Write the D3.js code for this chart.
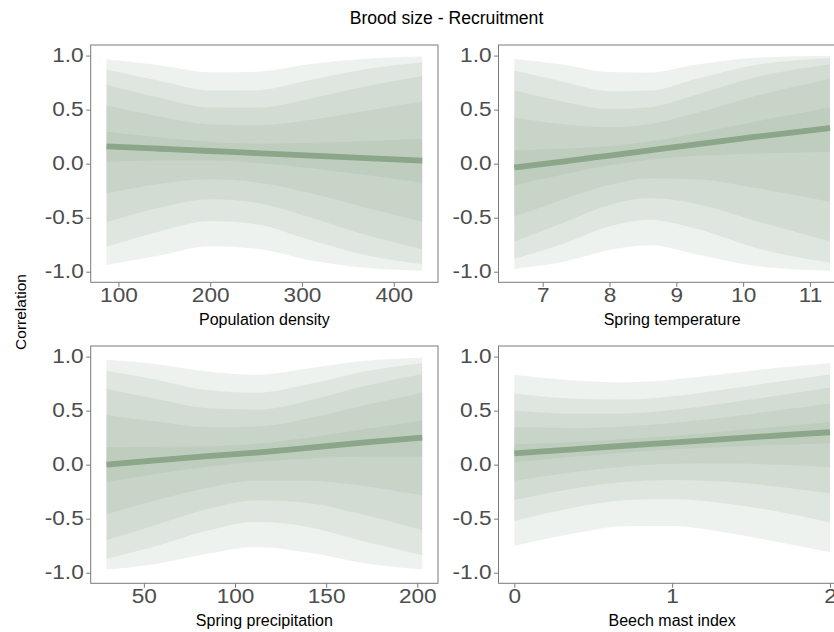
<!DOCTYPE html>
<html><head><meta charset="utf-8">
<script src="https://cdn.jsdelivr.net/npm/d3@7"></script>
<style>
body{margin:0;background:#fff;}
svg{display:block;font-family:"Liberation Sans",Arial,Helvetica,sans-serif;}
</style>
</head><body>
<svg id="chart" width="834" height="632"></svg>
<script>
// ---------------- data ----------------
const chartTitle = "Brood size - Recruitment";
const yTitle = "Correlation";
const yTicks = [-1, -0.5, 0, 0.5, 1];
const bandLevels = ["90%", "70%", "50%", "30%", "10%"];

// Population density
const densityX = [87, 145, 200, 250, 310, 370, 431];
const densityTicks = [100, 200, 300, 400];
const densityMedian = [0.160, 0.138, 0.117, 0.098, 0.075, 0.052, 0.028];
const densityUpper = [
  [0.966, 0.911, 0.846, 0.851, 0.922, 0.971, 0.991],
  [0.872, 0.768, 0.678, 0.680, 0.776, 0.875, 0.938],
  [0.730, 0.610, 0.520, 0.518, 0.604, 0.716, 0.811],
  [0.537, 0.434, 0.363, 0.354, 0.407, 0.490, 0.576],
  [0.296, 0.241, 0.200, 0.185, 0.190, 0.207, 0.230]];
const densityLower = [
  [-0.937, -0.849, -0.764, -0.787, -0.896, -0.965, -0.990],
  [-0.770, -0.627, -0.531, -0.560, -0.709, -0.848, -0.931],
  [-0.542, -0.406, -0.330, -0.361, -0.500, -0.661, -0.791],
  [-0.271, -0.185, -0.145, -0.172, -0.275, -0.407, -0.538],
  [0.017, 0.032, 0.031, 0.009, -0.042, -0.106, -0.176]];

// Spring temperature
const tempX = [6.575, 7.3, 8.0, 8.6, 9.3, 10.2, 11.3];
const tempTicks = [7, 8, 9, 10, 11];
const tempMedian = [-0.035, 0.019, 0.075, 0.123, 0.179, 0.249, 0.330];
const tempUpper = [
  [0.969, 0.917, 0.847, 0.844, 0.918, 0.981, 0.998],
  [0.861, 0.760, 0.671, 0.676, 0.786, 0.915, 0.978],
  [0.680, 0.575, 0.504, 0.521, 0.637, 0.801, 0.920],
  [0.428, 0.364, 0.336, 0.365, 0.468, 0.628, 0.784],
  [0.122, 0.137, 0.164, 0.206, 0.280, 0.391, 0.520]];
const tempLower = [
  [-0.974, -0.911, -0.799, -0.755, -0.838, -0.948, -0.991],
  [-0.880, -0.744, -0.579, -0.518, -0.603, -0.781, -0.918],
  [-0.721, -0.549, -0.383, -0.319, -0.372, -0.533, -0.718],
  [-0.491, -0.331, -0.196, -0.134, -0.145, -0.226, -0.353],
  [-0.200, -0.100, -0.015, 0.039, 0.074, 0.095, 0.110]];

// Spring precipitation
const precX = [29.5, 55, 85, 112, 140, 170, 202.7];
const precTicks = [50, 100, 150, 200];
const precMedian = [0.000, 0.037, 0.078, 0.112, 0.155, 0.204, 0.250];
const precUpper = [
  [0.971, 0.934, 0.862, 0.832, 0.890, 0.959, 0.989],
  [0.870, 0.793, 0.690, 0.665, 0.743, 0.860, 0.939],
  [0.699, 0.614, 0.522, 0.508, 0.590, 0.723, 0.837],
  [0.458, 0.401, 0.348, 0.352, 0.426, 0.545, 0.665],
  [0.161, 0.163, 0.168, 0.193, 0.248, 0.326, 0.409]];
const precLower = [
  [-0.971, -0.924, -0.825, -0.762, -0.814, -0.909, -0.969],
  [-0.870, -0.763, -0.610, -0.528, -0.576, -0.706, -0.838],
  [-0.699, -0.565, -0.410, -0.330, -0.356, -0.462, -0.605],
  [-0.458, -0.336, -0.213, -0.146, -0.146, -0.195, -0.284],
  [-0.161, -0.089, -0.020, 0.027, 0.058, 0.075, 0.076]];

// Beech mast index
const mastX = [0, 0.35, 0.7, 1.0, 1.35, 1.7, 2.0];
const mastTicks = [0, 1, 2];
const mastMedian = [0.105, 0.140, 0.175, 0.204, 0.239, 0.272, 0.300];
const mastUpper = [
  [0.831, 0.781, 0.762, 0.786, 0.843, 0.901, 0.938],
  [0.658, 0.612, 0.602, 0.632, 0.699, 0.775, 0.834],
  [0.500, 0.472, 0.474, 0.505, 0.570, 0.647, 0.711],
  [0.344, 0.339, 0.354, 0.385, 0.442, 0.508, 0.566],
  [0.186, 0.207, 0.235, 0.266, 0.309, 0.355, 0.395]];
const mastLower = [
  [-0.753, -0.645, -0.570, -0.568, -0.631, -0.726, -0.810],
  [-0.522, -0.406, -0.330, -0.318, -0.361, -0.443, -0.535],
  [-0.327, -0.227, -0.160, -0.141, -0.159, -0.209, -0.268],
  [-0.148, -0.072, -0.016, 0.009, 0.012, -0.002, -0.021],
  [0.022, 0.071, 0.113, 0.142, 0.166, 0.185, 0.199]];

// ---------------- drawing ----------------
const svg = d3.select("#chart");
const W = 347.3, H = 237.3;
const fillColor = "#8aa688", lineColor = "#8ba688";
const tickFont = 19.5, tickStretch = 1.16;

const panels = [
  {name: "Population density", x: densityX, mid: densityMedian, up: densityUpper, lo: densityLower, ticks: densityTicks, left: 90.7, top: 45},
  {name: "Spring temperature", x: tempX, mid: tempMedian, up: tempUpper, lo: tempLower, ticks: tempTicks, left: 498.5, top: 45},
  {name: "Spring precipitation", x: precX, mid: precMedian, up: precUpper, lo: precLower, ticks: precTicks, left: 90.7, top: 346},
  {name: "Beech mast index", x: mastX, mid: mastMedian, up: mastUpper, lo: mastLower, ticks: mastTicks, left: 498.5, top: 346}
];

const fmt = d => d.toFixed(1);
const fmtX = d => String(d);

panels.forEach(p => {
  const g = svg.append("g").attr("transform", `translate(${p.left},${p.top})`);
  const ext = d3.extent(p.x);
  const pad = (ext[1] - ext[0]) * 0.05;
  const x = d3.scaleLinear().domain([ext[0] - pad, ext[1] + pad]).range([0, W]);
  const y = d3.scaleLinear().domain([-1.098, 1.098]).range([H, 0]);

  g.append("rect").attr("width", W).attr("height", H).attr("fill", "#fff");

  bandLevels.forEach((lvl, i) => {
    const pts = p.x.map((xv, j) => ({x: xv, lo: p.lo[i][j], hi: p.up[i][j]}));
    g.append("path").datum(pts)
      .attr("class", "band")
      .attr("d", d3.area().x(d => x(d.x)).y0(d => y(d.lo)).y1(d => y(d.hi)).curve(d3.curveMonotoneX))
      .attr("fill", fillColor).attr("fill-opacity", 0.14);
  });

  const mpts = p.x.map((xv, j) => ({x: xv, v: p.mid[j]}));
  g.append("path").datum(mpts)
    .attr("d", d3.line().x(d => x(d.x)).y(d => y(d.v)).curve(d3.curveMonotoneX))
    .attr("fill", "none").attr("stroke", lineColor).attr("stroke-width", 5.8);

  g.append("rect").attr("width", W).attr("height", H)
    .attr("fill", "none").attr("stroke", "#7a7a7a").attr("stroke-width", 1);

  const ya = g.append("g")
    .call(d3.axisLeft(y).tickValues(yTicks).tickFormat(fmt).tickSize(4.5).tickPadding(2.5));
  const xa = g.append("g").attr("transform", `translate(0,${H})`)
    .call(d3.axisBottom(x).tickValues(p.ticks).tickFormat(fmtX).tickSize(4.5).tickPadding(1.5));
  [ya, xa].forEach(a => {
    a.select(".domain").remove();
    a.selectAll(".tick line").attr("stroke", "#7a7a7a");
    a.selectAll(".tick text").attr("fill", "#4d4d4d")
      .style("font-size", tickFont + "px").style("font-family", "'Liberation Sans', Arial, sans-serif");
  });
  ya.selectAll(".tick text").attr("transform", function() {
    const ax = +d3.select(this).attr("x");
    return `translate(${ax},0) scale(${tickStretch},1) translate(${-ax},0)`;
  });
  xa.selectAll(".tick text").attr("transform", `scale(${tickStretch},1)`);

  g.append("text").attr("x", W / 2).attr("y", H + 42.5)
    .attr("text-anchor", "middle").attr("fill", "#000")
    .style("font-size", "16px").text(p.name);
});

svg.append("text").attr("x", 446.5).attr("y", 23.5)
  .attr("text-anchor", "middle").attr("fill", "#000")
  .style("font-size", "17.6px").text(chartTitle);

svg.append("text").attr("transform", "translate(25.5,312) rotate(-90)")
  .attr("text-anchor", "middle").attr("fill", "#000")
  .style("font-size", "15.5px").text(yTitle);
</script>
</body></html>
